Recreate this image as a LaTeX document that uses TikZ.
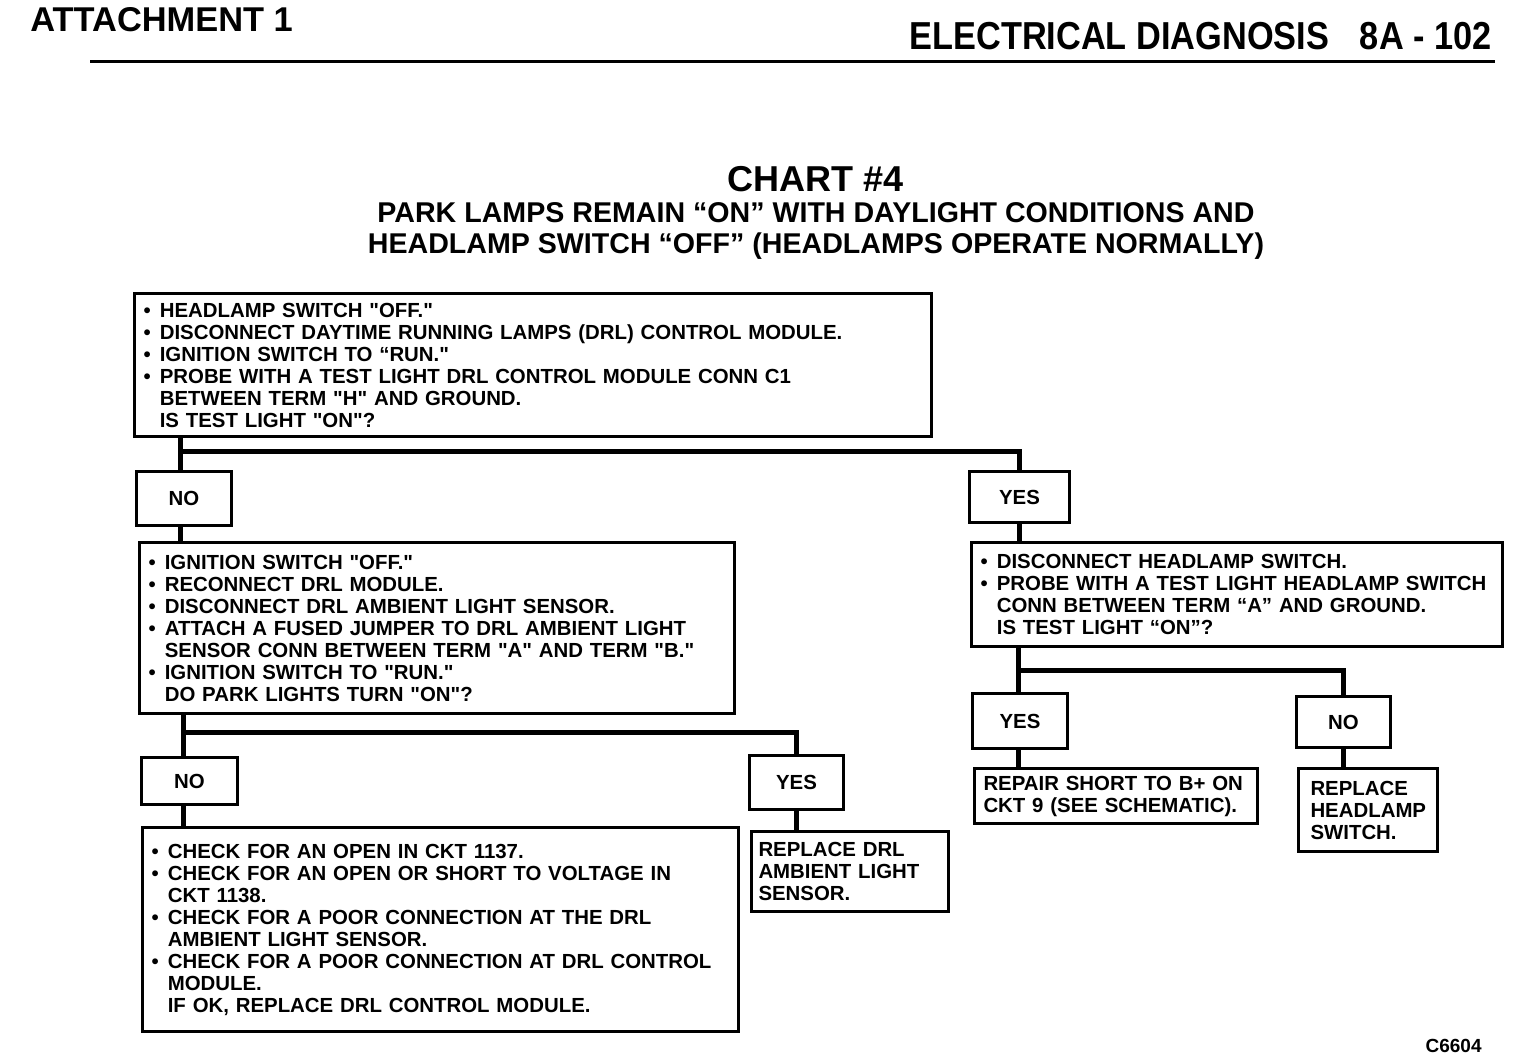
\documentclass[tikz,border=0pt]{standalone}
\usepackage{fontspec}
\setmainfont{Liberation Sans}
\begin{document}
\begin{tikzpicture}[x=0.5pt,y=-0.5pt,
  box/.style={draw,line width=1.5pt,anchor=north west,inner xsep=4.5pt,inner ysep=2pt,
    font=\fontsize{10.2}{11}\selectfont\bfseries,align=left},
  ans/.style={draw,line width=1.5pt,anchor=north west,inner sep=0pt,
    font=\fontsize{10.2}{11}\selectfont\bfseries,align=center},
  conn/.style={line width=2.5pt}]
\useasboundingbox (0,0) rectangle (1520,1058);
\newcommand{\bl}{\makebox[0.8em][l]{•}}
\newcommand{\ct}{\hspace*{0.8em}}
\newcommand{\qq}{\XeTeXglyph\XeTeXcharglyph"22\relax}
% header
\node[anchor=base west,inner sep=0pt,font=\fontsize{17.2}{18}\selectfont\bfseries] (hdl) at (30,32) {ATTACHMENT 1};
\node[anchor=base east,inner sep=0pt,font=\fontsize{19.5}{22}\selectfont\bfseries] (hdr) at (1492,50) {\scalebox{0.88}[1]{ELECTRICAL DIAGNOSIS\hspace{0.9em}8A - 102}};
\draw[line width=1.5pt] (90,62) -- (1495,62);
% title
\node[anchor=base,inner sep=0pt,font=\fontsize{18}{20}\selectfont\bfseries] (t1) at (816,192) {CHART \#4};
\node[anchor=base,inner sep=0pt,font=\fontsize{14.3}{16}\selectfont\bfseries] (t2) at (816,223) {PARK LAMPS REMAIN “ON” WITH DAYLIGHT CONDITIONS AND};
\node[anchor=base,inner sep=0pt,font=\fontsize{14.3}{16}\selectfont\bfseries] (t3) at (816,254) {HEADLAMP SWITCH “OFF” (HEADLAMPS OPERATE NORMALLY)};
% boxes
\node[box,minimum width=398.5pt,minimum height=71.5pt,text width=389.5pt] (box1) at (133,292) {%
\bl HEADLAMP SWITCH \qq OFF.\qq\\
\bl DISCONNECT DAYTIME RUNNING LAMPS (DRL) CONTROL MODULE.\\
\bl IGNITION SWITCH TO “RUN.\qq\\
\bl PROBE WITH A TEST LIGHT DRL CONTROL MODULE CONN C1\\
\ct BETWEEN TERM \qq H\qq{} AND GROUND.\\
\ct IS TEST LIGHT \qq ON\qq?};
\node[ans,minimum width=47.5pt,minimum height=27pt] (no1) at (135,470) {NO};
\node[ans,minimum width=50pt,minimum height=25.5pt] (yes1) at (968,470) {YES};
\node[box,minimum width=297.5pt,minimum height=85.5pt,text width=288.5pt] (box2) at (138,541) {%
\bl IGNITION SWITCH \qq OFF.\qq\\
\bl RECONNECT DRL MODULE.\\
\bl DISCONNECT DRL AMBIENT LIGHT SENSOR.\\
\bl ATTACH A FUSED JUMPER TO DRL AMBIENT LIGHT\\
\ct SENSOR CONN BETWEEN TERM \qq A\qq{} AND TERM \qq B.\qq\\
\bl IGNITION SWITCH TO \qq RUN.\qq\\
\ct DO PARK LIGHTS TURN \qq ON\qq?};
\node[box,minimum width=265.5pt,minimum height=52pt,text width=256.5pt] (box3) at (970,541) {%
\bl DISCONNECT HEADLAMP SWITCH.\\
\bl PROBE WITH A TEST LIGHT HEADLAMP SWITCH\\
\ct CONN BETWEEN TERM “A” AND GROUND.\\
\ct IS TEST LIGHT “ON”?};
\node[ans,minimum width=47.5pt,minimum height=27.5pt] (yes2) at (971,692) {YES};
\node[ans,minimum width=47pt,minimum height=25.5pt] (no2) at (1295,695) {NO};
\node[box,minimum width=141.5pt,minimum height=27.5pt,text width=132.5pt] (rep1) at (973,767) {%
REPAIR SHORT TO B+ ON\\
CKT 9 (SEE SCHEMATIC).};
\node[box,minimum width=66.5pt,minimum height=41.5pt,text width=57.5pt,inner xsep=6pt] (rep2) at (1297,767) {%
REPLACE\\
HEADLAMP\\
SWITCH.};
\node[ans,minimum width=48pt,minimum height=23.5pt] (no3) at (140,756) {NO};
\node[ans,minimum width=47pt,minimum height=27pt] (yes3) at (748,754) {YES};
\node[box,minimum width=298pt,minimum height=102pt,text width=289pt] (box4) at (141,826) {%
\bl CHECK FOR AN OPEN IN CKT 1137.\\
\bl CHECK FOR AN OPEN OR SHORT TO VOLTAGE IN\\
\ct CKT 1138.\\
\bl CHECK FOR A POOR CONNECTION AT THE DRL\\
\ct AMBIENT LIGHT SENSOR.\\
\bl CHECK FOR A POOR CONNECTION AT DRL CONTROL\\
\ct MODULE.\\
\ct IF OK, REPLACE DRL CONTROL MODULE.};
\node[box,minimum width=98.5pt,minimum height=40pt,text width=91.5pt,inner xsep=3.5pt] (rep3) at (750,830) {%
REPLACE DRL\\
AMBIENT LIGHT\\
SENSOR.};
\node[anchor=base east,inner sep=0pt,font=\fontsize{9.5}{11}\selectfont\bfseries] (code) at (1482,1052) {C6604};
% junctions
\coordinate (j1) at (180,452);
\coordinate (j2) at (183,732);
\coordinate (j3) at (1018,670);
% connectors
\draw[conn] (box1.south -| j1) -- (no1.north -| j1);
\draw[conn] (j1) -| (yes1.north);
\draw[conn] (no1.south -| j1) -- (box2.north -| j1);
\draw[conn] (yes1.south) -- (box3.north -| yes1.south);
\draw[conn] (box3.south -| j3) -- (yes2.north -| j3);
\draw[conn] (j3) -| (no2.north);
\draw[conn] (yes2.south -| j3) -- (rep1.north -| j3);
\draw[conn] (no2.south) -- (rep2.north -| no2.south);
\draw[conn] (box2.south -| j2) -- (no3.north -| j2);
\draw[conn] (j2) -| (yes3.north);
\draw[conn] (no3.south -| j2) -- (box4.north -| j2);
\draw[conn] (yes3.south) -- (rep3.north -| yes3.south);
\end{tikzpicture}
\end{document}
